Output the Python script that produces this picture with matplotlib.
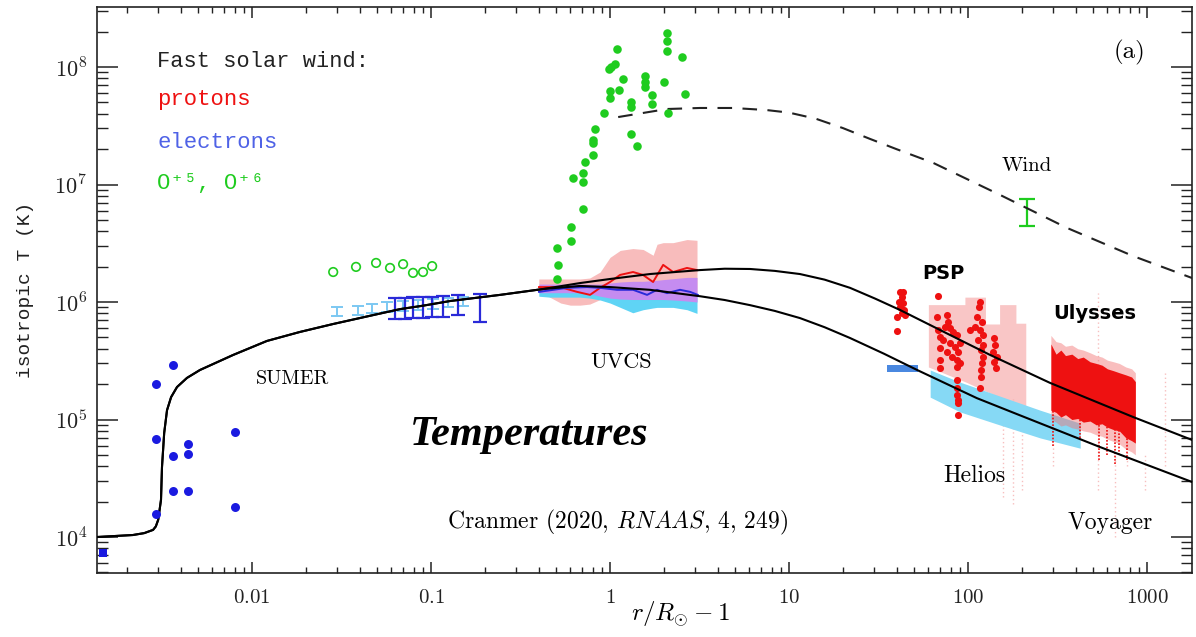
import matplotlib
matplotlib.use("Agg")
import matplotlib.pyplot as plt
from matplotlib.ticker import FixedLocator, FixedFormatter, LogLocator, NullFormatter

plt.rcParams['mathtext.fontset'] = 'cm'
plt.rcParams['axes.unicode_minus'] = False

# ---------------- model curves (r/Rsun - 1, T in K) ----------------
inner_r = [0.00136, 0.00216, 0.0025, 0.0028, 0.0029, 0.00299, 0.0031, 0.00314, 0.00323,
           0.00335, 0.00353, 0.00381, 0.00433, 0.00512, 0.00783, 0.0121, 0.0185,
           0.0284, 0.045, 0.0671, 0.09, 0.128, 0.243, 0.423]
inner_T = [1.0e4, 1.04e4, 1.08e4, 1.15e4, 1.23e4, 1.40e4, 2.07e4, 3.94e4, 7.68e4,
           1.20e5, 1.55e5, 1.89e5, 2.26e5, 2.64e5, 3.54e5, 4.66e5, 5.56e5,
           6.5e5, 7.6e5, 8.7e5, 9.3e5, 1.02e6, 1.15e6, 1.29e6]
proton_r = [0.68, 1.0, 1.67, 3.18, 4.37, 6.06, 8.32, 11.5, 15.8, 21.9, 30.2, 41.7,
            79.3, 133, 287, 836, 1784]
proton_T = [1.45e6, 1.57e6, 1.73e6, 1.87e6, 1.92e6, 1.91e6, 1.84e6, 1.73e6, 1.55e6,
            1.32e6, 1.07e6, 8.55e5, 5.24e5, 3.54e5, 2.05e5, 1.05e5, 6.7e4]
electron_r = [0.68, 1.0, 1.67, 3.18, 4.37, 6.06, 8.32, 11.5, 15.8, 21.9, 33.9, 51.9,
              112, 188, 546, 1784]
electron_T = [1.37e6, 1.34e6, 1.27e6, 1.12e6, 1.04e6, 9.4e5, 8.4e5, 7.3e5, 6.1e5,
              4.94e5, 3.63e5, 2.64e5, 1.52e5, 1.11e5, 5.83e4, 2.94e4]
ion_r = [1.11, 2.08, 3.18, 4.87, 7.5, 10.0, 14.1, 20.0, 28.2, 39.8, 63.7, 151, 357,
         836, 1784]
ion_T = [3.75e7, 4.39e7, 4.48e7, 4.48e7, 4.3e7, 4.09e7, 3.63e7, 3.02e7, 2.45e7,
         2.0e7, 1.53e7, 8.15e6, 4.27e6, 2.46e6, 1.6e6]

# ---------------- chromosphere / transition region (blue dots) ----------------
chromo_r = [0.00291, 0.00291, 0.00291, 0.00362, 0.00362, 0.00362,
            0.00439, 0.00439, 0.00439, 0.00804, 0.00804]
chromo_T = [2.0e5, 6.8e4, 1.57e4, 2.9e5, 4.9e4, 2.46e4,
            6.2e4, 5.1e4, 2.46e4, 7.8e4, 1.8e4]
base_r = [0.00147]
base_T = [7.3e3]

# ---------------- SUMER electron temperatures ----------------
sumer_lb_r = [0.030, 0.039, 0.047, 0.057, 0.070, 0.085, 0.103, 0.125, 0.15]
sumer_lb_lo = [7.6e5, 7.8e5, 8.0e5, 8.2e5, 8.4e5, 8.6e5, 8.8e5, 9.0e5, 9.2e5]
sumer_lb_hi = [9.0e5, 9.3e5, 9.6e5, 1.0e6, 1.03e6, 1.05e6, 1.07e6, 1.09e6, 1.1e6]
sumer_db_r = [0.063, 0.0716, 0.0793, 0.090, 0.1014, 0.1167, 0.1416, 0.188]
sumer_db_lo = [7.2e5, 7.2e5, 7.3e5, 7.3e5, 7.4e5, 7.5e5, 7.8e5, 6.8e5]
sumer_db_hi = [1.08e6, 1.08e6, 1.1e6, 1.1e6, 1.1e6, 1.12e6, 1.15e6, 1.16e6]

# ---------------- oxygen ions ----------------
oxy_open_r = [0.0284, 0.0381, 0.0493, 0.059, 0.0698, 0.0793, 0.0902, 0.1014]
oxy_open_T = [1.80e6, 1.99e6, 2.15e6, 1.95e6, 2.10e6, 1.77e6, 1.80e6, 2.02e6]
oxy_r = [2.08, 2.08, 2.08, 1.09, 2.52, 1.01, 1.07, 0.99, 1.18, 1.57, 1.57, 1.57,
         2.0, 1.0, 1.12, 1.0, 2.62, 1.72, 1.72, 1.31, 1.31, 0.926, 2.11, 0.824,
         0.804, 0.804, 1.31, 1.415, 0.804, 0.725, 0.707, 0.707, 0.621, 0.707,
         0.605, 0.605, 0.506, 0.51, 0.506]
oxy_T = [1.95e8, 1.66e8, 1.37e8, 1.42e8, 1.22e8, 1.0e8, 1.06e8, 9.6e7, 7.9e7, 8.4e7,
         7.4e7, 6.8e7, 7.4e7, 6.25e7, 6.4e7, 5.45e7, 5.9e7, 5.8e7, 4.85e7, 5.0e7,
         4.57e7, 4.06e7, 4.06e7, 2.97e7, 2.39e7, 2.26e7, 2.69e7, 2.13e7, 1.78e7,
         1.55e7, 1.25e7, 1.05e7, 1.14e7, 6.2e6, 4.35e6, 3.3e6, 2.88e6, 2.07e6, 1.57e6]
wind_r = [214]
wind_lo = [4.4e6]
wind_hi = [7.5e6]

# ---------------- UVCS ----------------
uv_r = [0.40, 0.46, 0.53, 0.60, 0.68, 0.77, 0.88, 1.0, 1.14, 1.34, 1.53,
        1.74, 1.83, 1.98, 2.25, 2.69, 3.06]
uv_p_hi = [1.57e6, 1.57e6, 1.57e6, 1.57e6, 1.57e6, 1.6e6, 1.8e6, 2.4e6, 2.75e6,
           2.85e6, 2.8e6, 2.5e6, 3.1e6, 3.2e6, 3.2e6, 3.4e6, 3.35e6]
uv_p_lo = [1.25e6, 1.1e6, 9.8e5, 9.4e5, 9.4e5, 9.6e5, 1.05e6, 1.15e6, 1.2e6,
           1.2e6, 1.2e6, 1.2e6, 1.2e6, 1.2e6, 1.2e6, 1.2e6, 1.2e6]
uv_v_hi = [1.42e6, 1.42e6, 1.42e6, 1.42e6, 1.42e6, 1.42e6, 1.42e6, 1.45e6, 1.48e6,
           1.5e6, 1.5e6, 1.52e6, 1.53e6, 1.55e6, 1.58e6, 1.62e6, 1.62e6]
uv_v_lo = [1.2e6, 1.2e6, 1.2e6, 1.2e6, 1.2e6, 1.18e6, 1.12e6, 1.08e6, 1.06e6,
           1.05e6, 1.05e6, 1.05e6, 1.05e6, 1.05e6, 1.04e6, 1.02e6, 1.0e6]
uv_c_hi = [1.3e6, 1.3e6, 1.3e6, 1.3e6, 1.3e6, 1.3e6, 1.28e6, 1.25e6, 1.2e6,
           1.2e6, 1.2e6, 1.2e6, 1.2e6, 1.2e6, 1.2e6, 1.2e6, 1.2e6]
uv_c_lo = [1.12e6, 1.1e6, 1.1e6, 1.1e6, 1.1e6, 1.08e6, 1.04e6, 9.8e5, 9.0e5,
           8.1e5, 8.6e5, 8.9e5, 9.0e5, 9.0e5, 9.0e5, 8.6e5, 8.0e5]
uv_prot_r = [0.401, 0.526, 0.654, 0.773, 0.879, 1.0, 1.137, 1.344, 1.528, 1.739,
             1.98, 2.25, 2.69, 3.06]
uv_prot_T = [1.34e6, 1.34e6, 1.22e6, 1.15e6, 1.32e6, 1.48e6, 1.70e6, 1.80e6,
             1.70e6, 1.48e6, 2.07e6, 1.80e6, 1.95e6, 1.87e6]
uv_elec_r = [0.401, 0.575, 0.744, 0.879, 1.094, 1.344, 1.61, 1.83, 2.08, 2.46, 2.80, 3.09]
uv_elec_T = [1.22e6, 1.32e6, 1.34e6, 1.32e6, 1.27e6, 1.27e6, 1.15e6, 1.27e6,
             1.19e6, 1.27e6, 1.22e6, 1.15e6]

# ---------------- Helios / PSP / Ulysses ----------------
helios_r = [61.4, 90.2, 151, 253, 423]
helios_hi = [2.64e5, 2.08e5, 1.58e5, 1.2e5, 9.3e4]
helios_lo = [1.55e5, 1.16e5, 8.97e4, 6.97e4, 5.7e4]
psp_e_r = [35.3, 52.6]
psp_e_lo = [2.54e5, 2.54e5]
psp_e_hi = [2.91e5, 2.91e5]
psp_band_r = [60, 96, 96, 125, 125, 150, 150, 185, 185, 210]
psp_band_hi = [9.5e5, 9.5e5, 1.1e6, 1.1e6, 6.5e5, 6.5e5, 9.5e5, 9.5e5, 6.6e5, 6.6e5]
psp_band_lo = [2.8e5, 2.1e5, 2.1e5, 1.75e5, 1.75e5, 1.55e5, 1.55e5, 1.3e5, 8.6e4, 8.6e4]
psp_r = [41.7, 43.4, 42.8, 41.2, 43.4, 41.7, 43.9, 42.8, 40.1, 44.5, 40.1,
         68.0, 67.1, 76.3, 77.3, 74.4, 68.0, 79.3, 82.4, 69.8, 72.5, 86.8, 90.2,
         79.3, 84.6, 69.8, 76.3, 87.9, 81.4, 69.8, 86.8, 90.2, 69.8, 86.8, 86.8,
         86.8, 86.8, 87.9, 87.9, 87.9,
         116.7, 115.2, 112.3, 119.7, 109.4, 116.7, 121.3, 113.7, 121.3, 118.2,
         121.3, 119.7, 118.2, 118.2, 116.7, 102.6,
         139.7, 141.5, 138, 145.2, 139.7, 143.3]
psp_T = [1.22e6, 1.22e6, 1.10e6, 1.0e6, 9.8e5, 9.06e5, 8.55e5, 8.06e5, 7.45e5, 7.75e5, 5.67e5,
         1.12e6, 7.45e5, 7.75e5, 6.76e5, 6.12e5, 5.78e5, 6.0e5, 5.56e5, 5.04e5, 4.75e5,
         5.24e5, 4.48e5, 4.48e5, 4.14e5, 4.06e5, 3.75e5, 3.75e5, 3.4e5, 3.21e5, 3.21e5,
         3.03e5, 2.74e5, 2.8e5, 2.17e5, 1.85e5, 1.62e5, 1.47e5, 1.38e5, 1.09e5,
         1.0e6, 9.06e5, 7.45e5, 6.76e5, 6.12e5, 5.78e5, 5.24e5, 4.75e5, 4.31e5, 3.9e5,
         3.4e5, 3.03e5, 2.64e5, 2.3e5, 1.85e5, 5.78e5,
         4.94e5, 4.31e5, 3.75e5, 3.4e5, 3.08e5, 2.74e5]
uly_r = [290, 310, 330, 350, 380, 410, 440, 480, 520, 560, 600, 650, 700, 760, 820, 860]
uly_hi = [4.4e5, 3.6e5, 3.9e5, 3.5e5, 3.6e5, 3.3e5, 3.4e5, 3.1e5, 3.0e5, 2.9e5,
          2.7e5, 2.6e5, 2.5e5, 2.4e5, 2.3e5, 2.1e5]
uly_lo = [1.2e5, 1.15e5, 1.05e5, 1.1e5, 1.0e5, 1.02e5, 9.5e4, 9.7e4, 9.0e4, 9.2e4,
          8.6e4, 8.2e4, 8.0e4, 7.0e4, 6.6e4, 6.3e4]
uly_halo_hi = [5.2e5, 4.6e5, 4.5e5, 4.2e5, 4.3e5, 4.0e5, 3.9e5, 3.7e5, 3.5e5, 3.4e5,
               3.2e5, 3.1e5, 3.0e5, 2.8e5, 2.7e5, 2.5e5]
uly_halo_lo = [1.0e5, 9.5e4, 8.8e4, 9.0e4, 8.5e4, 8.3e4, 8.0e4, 7.8e4, 7.4e4, 7.2e4,
               6.8e4, 6.5e4, 6.2e4, 5.6e4, 5.3e4, 5.0e4]
uly_streak_r = [300, 420, 540, 600, 660, 700, 770]
uly_streak_lo = [6e4, 7e4, 4.5e4, 5e4, 4.2e4, 5e4, 4.5e4]
uly_streak_hi = [1.2e5, 1.0e5, 9.0e4, 8.6e4, 8.2e4, 8.0e4, 7.0e4]
streak_r = [157, 178, 200, 298, 532, 663, 773, 974, 1261]
streak_hi = [1.5e5, 1.5e5, 1.3e5, 1.0e5, 1.2e6, 6e4, 1.0e5, 5e4, 2.5e5]
streak_lo = [2.2e4, 1.9e4, 2.5e4, 4.0e4, 2.5e4, 1.0e4, 4e4, 2.5e4, 4e4]

x_major = [0.01, 0.1, 1, 10, 100, 1000]
x_labels = ['$0.01$', '$0.1$', '$1$', '$10$', '$100$', '$1000$']
y_major = [1e4, 1e5, 1e6, 1e7, 1e8]
y_labels = ['$10^{4}$', '$10^{5}$', '$10^{6}$', '$10^{7}$', '$10^{8}$']

# ---------------- colours ----------------
c_red = '#ee1111'
c_blue = '#1a1ae0'
c_green = '#1fcc1f'
c_cyan = '#86d9f5'
c_pink = '#f8bcbc'
c_purple = '#c58cf0'
c_elec_txt = '#4f62e6'

fig = plt.figure(figsize=(11.96, 6.37), dpi=100)
ax = fig.add_axes([0.0811, 0.1005, 0.9156, 0.8885])
ax.set_xscale('log')
ax.set_yscale('log')
ax.set_xlim(1.361e-3, 1783)
ax.set_ylim(4943, 3.24e8)

# bands
ax.fill_between(psp_band_r, psp_band_lo, psp_band_hi, color='#f9c6c6', lw=0, zorder=1)
ax.fill_between(helios_r, helios_lo, helios_hi, color=c_cyan, lw=0, zorder=1.5)
ax.fill_between(psp_e_r, psp_e_lo, psp_e_hi, color='#4a88e0', lw=0, zorder=1.5)
ax.fill_between(uv_r, uv_p_lo, uv_p_hi, color=c_pink, lw=0, zorder=1)
ax.fill_between(uv_r, uv_c_lo, uv_c_hi, color='#5fd4f5', lw=0, zorder=1.2)
ax.fill_between(uv_r, uv_v_lo, uv_v_hi, color=c_purple, lw=0, zorder=1.3)

# faint solar-wind scatter
ax.vlines(streak_r, streak_lo, streak_hi, colors='#f4a4a4', linewidth=1.0,
          linestyles=(0, (1, 2)), alpha=0.7, zorder=1)
ax.fill_between(uly_r, uly_halo_lo, uly_halo_hi, color='#f27070', alpha=0.45, lw=0, zorder=2)
ax.vlines(uly_streak_r, uly_streak_lo, uly_streak_hi, colors=c_red, linewidth=1.2,
          linestyles=(0, (1, 1)), zorder=2)
ax.fill_between(uly_r, uly_lo, uly_hi, color=c_red, lw=0, zorder=2.1)

ax.scatter(psp_r, psp_T, s=26, color=c_red, lw=0, zorder=3)

# UVCS lines
ax.plot(uv_prot_r, uv_prot_T, color=c_red, lw=1.4, zorder=3)
ax.plot(uv_elec_r, uv_elec_T, color='#2a2ad8', lw=1.4, zorder=3)

# SUMER error bars
lb_c = [(a * b) ** 0.5 for a, b in zip(sumer_lb_lo, sumer_lb_hi)]
ax.errorbar(sumer_lb_r, lb_c,
            yerr=[[c - l for c, l in zip(lb_c, sumer_lb_lo)],
                  [h - c for c, h in zip(lb_c, sumer_lb_hi)]],
            fmt='none', ecolor='#7cc8f2', elinewidth=1.4, capsize=4, capthick=1.4, zorder=3)
db_c = [(a * b) ** 0.5 for a, b in zip(sumer_db_lo, sumer_db_hi)]
ax.errorbar(sumer_db_r, db_c,
            yerr=[[c - l for c, l in zip(db_c, sumer_db_lo)],
                  [h - c for c, h in zip(db_c, sumer_db_hi)]],
            fmt='none', ecolor='#2a2ad8', elinewidth=1.6, capsize=5, capthick=1.6, zorder=3.2)

# Wind ion temperature range
w_c = [(a * b) ** 0.5 for a, b in zip(wind_lo, wind_hi)]
ax.errorbar(wind_r, w_c,
            yerr=[[c - l for c, l in zip(w_c, wind_lo)],
                  [h - c for c, h in zip(w_c, wind_hi)]],
            fmt='none', ecolor=c_green, elinewidth=1.6, capsize=6, capthick=1.6, zorder=3)

# model curves
ax.plot(inner_r + proton_r, inner_T + proton_T, color='black', lw=1.5, zorder=5)
ax.plot(inner_r + electron_r, inner_T + electron_T, color='black', lw=1.5, zorder=5)
ax.plot(ion_r, ion_T, color='#222222', lw=1.5, dashes=(7, 5), zorder=5)

# points
ax.scatter(chromo_r, chromo_T, s=42, color=c_blue, lw=0, zorder=6)
ax.scatter(base_r, base_T, s=40, marker='s', color=c_blue, lw=0, zorder=6, clip_on=False)
ax.scatter(oxy_r, oxy_T, s=38, color=c_green, lw=0, zorder=6)
ax.scatter(oxy_open_r, oxy_open_T, s=38, facecolors='none', edgecolors=c_green,
           linewidths=1.2, zorder=6)

# axes styling
ax.xaxis.set_major_locator(FixedLocator(x_major))
ax.xaxis.set_major_formatter(FixedFormatter(x_labels))
ax.xaxis.set_minor_locator(LogLocator(base=10, subs=[2, 3, 4, 5, 6, 7, 8, 9], numticks=20))
ax.xaxis.set_minor_formatter(NullFormatter())
ax.yaxis.set_major_locator(FixedLocator(y_major))
ax.yaxis.set_major_formatter(FixedFormatter(y_labels))
ax.yaxis.set_minor_locator(LogLocator(base=10, subs=[2, 3, 4, 5, 6, 7, 8, 9], numticks=20))
ax.yaxis.set_minor_formatter(NullFormatter())
ax.tick_params(axis='both', which='both', direction='in', top=True, right=True, colors='#222222')
ax.tick_params(axis='y', which='major', length=15, width=1.1, labelsize=16, pad=7)
ax.tick_params(axis='y', which='minor', length=8, width=1.0)
ax.tick_params(axis='x', which='major', length=8, width=1.1, labelsize=15, pad=10)
ax.tick_params(axis='x', which='minor', length=4, width=1.0)
for sp in ax.spines.values():
    sp.set_linewidth(1.2)
    sp.set_color('#222222')

mono = ['Liberation Mono', 'DejaVu Sans Mono']
fig.text(0.021, 0.545, 'isotropic T (K)', rotation=90, ha='center', va='center',
         family=mono, fontsize=14, color='#222222')
fig.text(0.569, 0.035, r'$r/R_{\odot}-1$', ha='center', va='center', fontsize=18)

tr = ax.transAxes
ax.text(0.0548, 0.903, 'Fast solar wind:', transform=tr, family=mono, fontsize=15.8,
        color='#222222', va='center', zorder=7)
ax.text(0.0548, 0.836, 'protons', transform=tr, family=mono, fontsize=16,
        color=c_red, va='center', zorder=7)
ax.text(0.0548, 0.761, 'electrons', transform=tr, family=mono, fontsize=16,
        color=c_elec_txt, va='center', zorder=7)
ax.text(0.0548, 0.689, 'O\u207a\u2075, O\u207a\u2076', transform=tr, family=mono,
        fontsize=16, color=c_green, va='center', zorder=7)

serif = 'cmr10'
ax.text(0.943, 0.919, '(a)', transform=tr, family=serif, fontsize=18, ha='center', va='center')
ax.text(0.849, 0.719, 'Wind', transform=tr, family=serif, fontsize=15, ha='center', va='center')
ax.text(0.179, 0.343, 'SUMER', transform=tr, family=serif, fontsize=14.5, ha='center', va='center')
ax.text(0.479, 0.373, 'UVCS', transform=tr, family=serif, fontsize=16, ha='center', va='center')
ax.text(0.801, 0.171, 'Helios', transform=tr, family=serif, fontsize=17, ha='center', va='center')
ax.text(0.925, 0.088, 'Voyager', transform=tr, family=serif, fontsize=17, ha='center', va='center')
ax.text(0.773, 0.530, 'PSP', transform=tr, family='DejaVu Sans', fontweight='bold',
        fontsize=14, ha='center', va='center', zorder=7)
ax.text(0.911, 0.459, 'Ulysses', transform=tr, family='DejaVu Sans', fontweight='bold',
        fontsize=14, ha='center', va='center', zorder=7)
ax.text(0.395, 0.244, 'Temperatures', transform=tr, family='Liberation Serif',
        fontweight='bold', style='italic', fontsize=30.5, ha='center', va='center', zorder=7)
ax.text(0.475, 0.090, r'Cranmer (2020, $\mathit{RNAAS}$, 4, 249)', transform=tr,
        family=serif, fontsize=17, ha='center', va='center')

fig.savefig('out.png', dpi=100)
